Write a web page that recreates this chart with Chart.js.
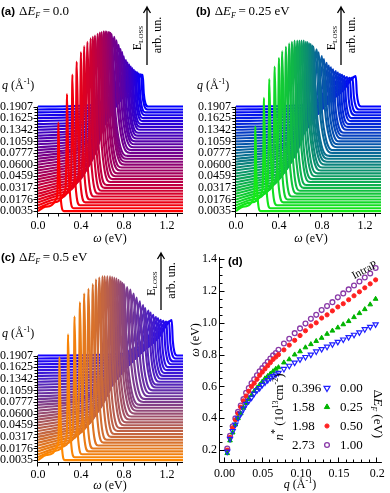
<!DOCTYPE html>
<html>
<head>
<meta charset="utf-8">
<script src="https://cdn.jsdelivr.net/npm/chart.js@4.4.1/dist/chart.umd.min.js"></script>
<style>
  html, body { margin: 0; padding: 0; background: #fff; }
  #page { position: relative; width: 390px; height: 493px; overflow: hidden; }
  canvas { position: absolute; }
</style>
</head>
<body>
<div id="page">
  <canvas id="chartA" width="195" height="246" style="left:0px;top:0px"></canvas>
  <canvas id="chartB" width="192" height="246" style="left:198px;top:0px"></canvas>
  <canvas id="chartC" width="195" height="246" style="left:0px;top:249px"></canvas>
  <canvas id="chartD" width="205" height="246" style="left:185px;top:247px"></canvas>
  <canvas id="overlay" width="390" height="493" style="left:0;top:0;pointer-events:none"></canvas>
</div>
<script>
// momentum transfer q (1/Angstrom) of every spectrum / dispersion point
const qValues = [0.0035, 0.0071, 0.0106, 0.0141, 0.0176, 0.0212, 0.0247, 0.0282, 0.0317, 0.0353,
  0.0388, 0.0424, 0.0459, 0.0494, 0.0529, 0.0565, 0.0600, 0.0635, 0.0671, 0.0706,
  0.0777, 0.0847, 0.0918, 0.0988, 0.1059, 0.1130, 0.1200, 0.1271, 0.1342, 0.1412,
  0.1483, 0.1554, 0.1625, 0.1695, 0.1766, 0.1836, 0.1907, 0.1978];

// plasmon energy (eV) vs q, panel (d)
const omegaE000 = [0.19, 0.27, 0.32, 0.36, 0.40, 0.43, 0.46, 0.49, 0.51, 0.53,
  0.555, 0.575, 0.59, 0.61, 0.625, 0.64, 0.655, 0.665, 0.675, 0.685,
  0.71, 0.73, 0.75, 0.77, 0.785, 0.80, 0.82, 0.835, 0.85, 0.865,
  0.88, 0.895, 0.91, 0.925, 0.94, 0.96, 0.975, 0.99];
const omegaE025 = [0.18, 0.26, 0.31, 0.36, 0.40, 0.43, 0.465, 0.495, 0.52, 0.545,
  0.57, 0.59, 0.61, 0.63, 0.65, 0.665, 0.68, 0.695, 0.71, 0.72,
  0.75, 0.77, 0.80, 0.82, 0.845, 0.865, 0.885, 0.905, 0.93, 0.95,
  0.97, 0.99, 1.01, 1.035, 1.06, 1.085, 1.115, 1.15];
const omegaE050 = [0.20, 0.28, 0.34, 0.39, 0.43, 0.47, 0.51, 0.54, 0.57, 0.60,
  0.62, 0.645, 0.67, 0.69, 0.71, 0.73, 0.75, 0.77, 0.785, 0.80,
  0.83, 0.86, 0.89, 0.92, 0.95, 0.98, 1.00, 1.03, 1.05, 1.075,
  1.10, 1.12, 1.145, 1.17, 1.195, 1.22, 1.245, 1.27];
const omegaE100 = [0.21, 0.29, 0.35, 0.40, 0.44, 0.48, 0.52, 0.56, 0.59, 0.62,
  0.645, 0.67, 0.695, 0.715, 0.735, 0.755, 0.775, 0.795, 0.81, 0.83,
  0.87, 0.90, 0.935, 0.965, 0.995, 1.025, 1.05, 1.08, 1.105, 1.13,
  1.16, 1.185, 1.21, 1.235, 1.26, 1.285, 1.31, 1.345];

// loss peak heights, in units of the waterfall offset between spectra
const heightA = [30.5, 39.3, 45.0, 48.5, 50.8, 51.8, 52.3, 52.5, 52.0, 51.5,
  51.1, 50.5, 49.7, 48.9, 47.9, 46.8, 45.7, 44.6, 43.4, 42.0,
  40.0, 37.8, 35.3, 32.8, 30.8, 28.3, 26.0, 24.2, 22.5, 20.8,
  19.2, 17.6, 16.1, 14.8, 13.4, 12.1, 10.9];
const heightB = [29.2, 38.0, 43.5, 46.8, 48.8, 50.1, 50.7, 50.8, 50.3, 49.7,
  48.7, 47.7, 46.7, 45.7, 44.3, 43.2, 41.8, 40.5, 39.0, 37.7,
  35.7, 33.7, 31.4, 29.4, 27.1, 25.1, 23.5, 21.8, 20.2, 18.7,
  17.2, 15.9, 14.5, 13.2, 11.9, 11.0, 10.5];
const heightC = [35.4, 42.3, 47.5, 51.4, 53.4, 54.0, 54.6, 55.3, 54.9, 54.3,
  53.3, 52.3, 51.3, 50.1, 48.9, 47.6, 46.1, 44.6, 43.1, 41.6,
  39.6, 37.7, 35.4, 33.0, 30.7, 28.4, 26.4, 24.5, 22.8, 21.0,
  19.3, 17.8, 16.3, 15.0, 13.7, 12.7, 12.2];

// half width of the loss peak core (eV), foot extent below it and tail above it
const peakHalfWidth = [0.004, 0.005, 0.006, 0.007, 0.008, 0.009, 0.010, 0.011, 0.012, 0.014,
  0.016, 0.018, 0.020, 0.022, 0.025, 0.028, 0.031, 0.034, 0.037, 0.040,
  0.045, 0.050, 0.055, 0.060, 0.065, 0.070, 0.075, 0.080, 0.085, 0.090,
  0.095, 0.100, 0.105, 0.110, 0.115, 0.120, 0.125];
const widthLeft = [0.12, 0.13, 0.14, 0.15, 0.16, 0.17, 0.18, 0.19, 0.20, 0.21,
  0.22, 0.23, 0.24, 0.25, 0.26, 0.27, 0.28, 0.29, 0.30, 0.30,
  0.31, 0.32, 0.33, 0.34, 0.35, 0.36, 0.37, 0.38, 0.39, 0.40,
  0.41, 0.42, 0.43, 0.44, 0.45, 0.45, 0.45];
const widthRight = [0.05, 0.06, 0.07, 0.08, 0.08, 0.09, 0.10, 0.10, 0.11, 0.11,
  0.12, 0.12, 0.13, 0.13, 0.14, 0.14, 0.15, 0.15, 0.15, 0.15,
  0.15, 0.14, 0.14, 0.13, 0.12, 0.12, 0.11, 0.10, 0.10, 0.09,
  0.08, 0.08, 0.07, 0.07, 0.06, 0.06, 0.05];

const qLabelIndex = [0, 4, 8, 12, 16, 20, 24, 28, 32, 36];
const omegaLabels = [0.0, 0.4, 0.8, 1.2];
const dispOmegaLabels = [0.2, 0.4, 0.6, 0.8, 1.0, 1.2, 1.4];
const dispQLabels = [0.00, 0.05, 0.10, 0.15, 0.2];

const densityLabels = ["0.396", "1.58", "1.98", "2.73"];
const dopingLabels = ["0.00", "0.25", "0.50", "1.00"];

const SERIF = '"Liberation Serif", "DejaVu Serif", serif';
const SANS = '"Liberation Sans", Arial, sans-serif';
const N_SPEC = 37;
const W_MAX = 1.35;

function mix(c0, c1, t) {
  const c = c0.map((v, k) => Math.round(v + (c1[k] - v) * t));
  return `rgb(${c[0]},${c[1]},${c[2]})`;
}

// control points of one spectrum, smoothed by the monotone spline of Chart.js
function spectrum(i, op, h) {
  const g = peakHalfWidth[i], wl = widthLeft[i], wr = widthRight[i], b = i;
  return [
    {x: 0, y: b},
    {x: op - wl, y: b + 0.05 * h},
    {x: op - 3 * g, y: b + 0.16 * h},
    {x: op - g, y: b + 0.5 * h},
    {x: op - 0.35 * g, y: b + 0.88 * h},
    {x: op, y: b + h},
    {x: op + 0.2 * wr, y: b + 0.42 * h},
    {x: op + 0.5 * wr, y: b + 0.1 * h},
    {x: op + wr, y: b},
    {x: W_MAX, y: b}
  ];
}

// draws axis lines + tick marks by hand (ticks inward or outward)
const axisMarks = {
  id: 'axisMarks',
  afterDraw(chart) {
    const o = chart.options.plugins.axisMarks;
    const {ctx, chartArea: a, scales: {x, y}} = chart;
    const dir = o.inward ? -1 : 1;
    ctx.save();
    ctx.strokeStyle = '#000';
    ctx.lineWidth = 1;
    ctx.beginPath();
    const yTop = o.yTop != null ? y.getPixelForValue(o.yTop) : a.top;
    ctx.moveTo(a.left - 0.5, yTop);
    ctx.lineTo(a.left - 0.5, a.bottom + 0.5);
    ctx.lineTo(a.right, a.bottom + 0.5);
    x.ticks.forEach(t => {
      const px = Math.round(x.getPixelForValue(t.value)) - 0.5;
      const len = t.label !== '' ? o.major : o.minor;
      ctx.moveTo(px, a.bottom + 0.5);
      ctx.lineTo(px, a.bottom + 0.5 + dir * len);
    });
    y.ticks.forEach(t => {
      const py = Math.round(y.getPixelForValue(t.value)) + 0.5;
      const len = t.label !== '' ? o.major : o.minor;
      ctx.moveTo(a.left - 0.5, py);
      ctx.lineTo(a.left - 0.5 - dir * len, py);
    });
    ctx.stroke();
    ctx.restore();
  }
};

function near(v, list) {
  return list.some(l => Math.abs(l - v) < 1e-6);
}

function waterfall(id, omegas, heights, c0, c1, padRight) {
  const datasets = [];
  for (let i = 0; i < N_SPEC; i++) {
    datasets.push({
      data: spectrum(i, omegas[i], heights[i]),
      borderColor: mix(c0, c1, i / (N_SPEC - 1)),
      borderWidth: 2.1,
      pointRadius: 0,
      cubicInterpolationMode: 'monotone',
      fill: false
    });
  }
  const minorX = [];
  for (let k = 0; k <= 13; k++) minorX.push(k / 10);
  return new Chart(document.getElementById(id), {
    type: 'line',
    data: {datasets},
    options: {
      responsive: false,
      animation: false,
      events: [],
      layout: {autoPadding: false, padding: {top: 2, right: padRight, left: 0, bottom: 0}},
      scales: {
        x: {
          type: 'linear', min: 0, max: W_MAX,
          afterFit: s => { s.height = 33; },
          afterBuildTicks: ax => { ax.ticks = minorX.map(v => ({value: v})); },
          ticks: {
            autoSkip: false, maxRotation: 0, padding: 6, color: '#000',
            font: {family: SERIF, size: 12},
            callback: v => near(v, omegaLabels) ? v.toFixed(1) : ''
          },
          grid: {display: false, drawTicks: false},
          border: {display: false}
        },
        y: {
          type: 'linear', min: -0.66, max: 68.5,
          afterFit: s => { s.width = 38; },
          afterBuildTicks: ax => { ax.ticks = qValues.slice(0, N_SPEC).map((q, i) => ({value: i})); },
          ticks: {
            autoSkip: false, padding: 5, color: '#000',
            font: {family: SERIF, size: 12},
            callback: v => qLabelIndex.includes(v) ? qValues[v].toFixed(4) : ''
          },
          grid: {display: false, drawTicks: false},
          border: {display: false}
        }
      },
      plugins: {
        legend: {display: false},
        tooltip: {enabled: false},
        axisMarks: {inward: false, major: 4, minor: 3, yTop: N_SPEC - 1}
      }
    },
    plugins: [axisMarks]
  });
}

waterfall('chartA', omegaE000, heightA, [255, 0, 0], [0, 0, 255], 12);
waterfall('chartB', omegaE025, heightB, [20, 235, 20], [0, 0, 255], 9);
waterfall('chartC', omegaE050, heightC, [255, 136, 0], [20, 0, 255], 12);

// panel (d): dispersion
const dispColors = ['#1f1fff', '#00b400', '#ff2020', '#8a3aa8'];
const dispStyles = [
  {pointStyle: 'triangle', rotation: 180, radius: 3.0, fill: false, bw: 1.2},
  {pointStyle: 'triangle', rotation: 0, radius: 2.7, fill: true, bw: 1},
  {pointStyle: 'circle', rotation: 0, radius: 2.1, fill: true, bw: 1},
  {pointStyle: 'circle', rotation: 0, radius: 2.4, fill: false, bw: 1.3}
];
const dispSeries = [omegaE000, omegaE025, omegaE050, omegaE100];

const minorQ = [];
for (let k = 0; k <= 20; k++) minorQ.push(k / 100);
const minorW = [];
for (let k = 4; k <= 28; k++) minorW.push(k / 20);

new Chart(document.getElementById('chartD'), {
  type: 'scatter',
  data: {
    datasets: dispSeries.map((ser, s) => ({
      data: qValues.map((q, i) => ({x: q, y: ser[i]})),
      pointStyle: dispStyles[s].pointStyle,
      rotation: dispStyles[s].rotation,
      pointRadius: dispStyles[s].radius,
      borderWidth: dispStyles[s].bw,
      borderColor: dispColors[s],
      backgroundColor: dispStyles[s].fill ? dispColors[s] : 'rgba(255,255,255,0)'
    }))
  },
  options: {
    responsive: false,
    animation: false,
    events: [],
    layout: {autoPadding: false, padding: {top: 9, right: 7, left: 0, bottom: 0}},
    scales: {
      x: {
        type: 'linear', min: -0.006, max: 0.206,
        afterFit: s => { s.height = 31; },
        afterBuildTicks: ax => { ax.ticks = minorQ.map(v => ({value: v})); },
        ticks: {
          autoSkip: false, maxRotation: 0, padding: 5, color: '#000',
          font: {family: SERIF, size: 12},
          callback: v => near(v, dispQLabels) ? (Math.abs(v - 0.2) < 1e-6 ? '0.2' : v.toFixed(2)) : ''
        },
        grid: {display: false, drawTicks: false},
        border: {display: false}
      },
      y: {
        type: 'linear', min: 0.125, max: 1.4125,
        afterFit: s => { s.width = 35; },
        afterBuildTicks: ax => { ax.ticks = minorW.map(v => ({value: v})); },
        ticks: {
          autoSkip: false, padding: 3, color: '#000',
          font: {family: SERIF, size: 12},
          callback: v => near(v, dispOmegaLabels) ? v.toFixed(1) : ''
        },
        grid: {display: false, drawTicks: false},
        border: {display: false}
      }
    },
    plugins: {
      legend: {display: false},
      tooltip: {enabled: false},
      axisMarks: {inward: true, major: 5, minor: 3, yTop: null}
    }
  },
  plugins: [axisMarks]
});

// ---- overlay texts, arrows and legend ----
const ov = document.getElementById('overlay').getContext('2d');
ov.fillStyle = '#000';
ov.strokeStyle = '#000';
ov.textBaseline = 'alphabetic';

function runs(ctx, x, y, parts) {
  let cx = x;
  parts.forEach(([t, f, dy]) => {
    ctx.font = f;
    ctx.fillText(t, cx, y + (dy || 0));
    cx += ctx.measureText(t).width;
  });
  return cx - x;
}
function runsWidth(ctx, parts) {
  let w = 0;
  parts.forEach(([t, f]) => { ctx.font = f; w += ctx.measureText(t).width; });
  return w;
}
function rotated(ctx, cx, cy, angle, parts, yOff) {
  ctx.save();
  ctx.translate(cx, cy);
  ctx.rotate(angle);
  const w = runsWidth(ctx, parts);
  runs(ctx, -w / 2, yOff, parts);
  ctx.restore();
}

const R13 = `13px ${SERIF}`, I13 = `italic 13px ${SERIF}`;
const R12 = `12px ${SERIF}`, I12 = `italic 12px ${SERIF}`;
const S8 = `8px ${SERIF}`, SI8 = `italic 8px ${SERIF}`;

function panelTitle(x, y, tag, value) {
  ov.font = `bold 11.5px ${SANS}`;
  ov.fillText(tag, x, y);
  const w = ov.measureText(tag).width;
  runs(ov, x + w + 4, y, [['Δ', R13], ['E', I13], ['F', SI8, 3], ['\u2009=\u2009', R13], [value, R13]]);
}
function qLabel(x, y) {
  runs(ov, x, y, [['q', I12], [' (Å', R12], ['-1', S8, -5], [')', R12]]);
}
function omegaLabel(cx, y) {
  const parts = [['ω', I12], [' (eV)', R12]];
  const w = runsWidth(ov, parts);
  runs(ov, cx - w / 2, y, parts);
}
function lossArrow(x, yBot, yTop) {
  ov.save();
  ov.lineWidth = 1.3;
  ov.beginPath();
  ov.moveTo(x, yBot);
  ov.lineTo(x, yTop);
  ov.moveTo(x - 3.5, yTop + 6);
  ov.quadraticCurveTo(x - 1, yTop + 2, x, yTop);
  ov.quadraticCurveTo(x + 1, yTop + 2, x + 3.5, yTop + 6);
  ov.stroke();
  ov.restore();
  rotated(ov, x - 6, (yBot + yTop) / 2 + 2, -Math.PI / 2, [['E', R12], ['LOSS', `7px ${SERIF}`, 2]], 0);
  rotated(ov, x + 5, (yBot + yTop) / 2 - 1, -Math.PI / 2, [['arb. un.', R12]], 9);
}

panelTitle(1, 15, '(a)', '0.0');
panelTitle(196, 15, '(b)', '0.25 eV');
panelTitle(1, 261, '(c)', '0.5 eV');
qLabel(2, 89);
qLabel(197, 89);
qLabel(2, 337);
omegaLabel(110, 242);
omegaLabel(311, 242);
omegaLabel(110, 489);
lossArrow(147, 65, 7);
lossArrow(341, 65, 7);
lossArrow(161, 310, 253);

// panel (d) annotations
ov.font = `bold 11.5px ${SANS}`;
ov.fillText('(d)', 228, 265);
rotated(ov, 199, 340, -Math.PI / 2, [['ω', I12], [' (eV)', R12]], 0);
(function () {
  const parts = [['q', I12], [' (Å', R12], ['-1', S8, -5], [')', R12]];
  const w = runsWidth(ov, parts);
  runs(ov, 300 - w / 2, 488, parts);
})();
rotated(ov, 366, 273, -0.49, [['IntraP', `11px ${SERIF}`]], 0);

const rowY = [392, 411, 430, 449];
rowY.forEach((y, s) => {
  ov.font = R13;
  ov.fillText(densityLabels[s], 292, y);
  ov.fillText(dopingLabels[s], 340, y);
  const st = dispStyles[s];
  const mx = 327, my = y - 4;
  ov.save();
  ov.lineWidth = st.bw;
  ov.strokeStyle = dispColors[s];
  ov.fillStyle = dispColors[s];
  ov.beginPath();
  if (st.pointStyle === 'circle') {
    ov.arc(mx, my, st.radius, 0, Math.PI * 2);
  } else {
    const r = st.radius * 1.15;
    const sgn = st.rotation === 180 ? -1 : 1;
    ov.moveTo(mx, my - sgn * r);
    ov.lineTo(mx + r * 0.87, my + sgn * r * 0.5);
    ov.lineTo(mx - r * 0.87, my + sgn * r * 0.5);
    ov.closePath();
  }
  if (st.fill) ov.fill();
  ov.stroke();
  ov.restore();
});
rotated(ov, 283, 407, -Math.PI / 2,
  [['n', I13], ['*', `10px ${SERIF}`, -5], [' (10', R13], ['13', S8, -5], ['cm', R13], ['-2', S8, -5], [')', R13]], 0);
rotated(ov, 374, 414, Math.PI / 2, [['Δ', R13], ['E', I13], ['F', SI8, 3], [' (eV)', R13]], 0);
</script>
</body>
</html>
